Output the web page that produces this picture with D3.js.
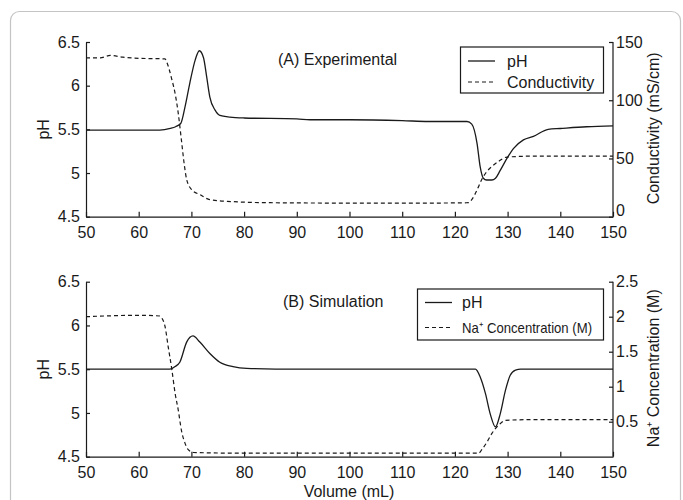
<!DOCTYPE html>
<html>
<head>
<meta charset="utf-8">
<script src="https://cdn.jsdelivr.net/npm/d3@7"></script>
<style>
  body { margin: 0; background: #fff; }
  svg { font-family: "Liberation Sans", Arial, sans-serif; }
  .axis text { font-size: 16px; fill: #1a1a1a; }
  .axis path, .axis line { stroke: #1a1a1a; stroke-width: 1.2; }
</style>
</head>
<body>
<div id="chart"></div>
<script>
// panel A: experimental
const volA = [50, 55, 60, 64, 66, 67, 68, 68.8, 69.7, 70.7, 71.5, 72.3, 72.9, 73.5, 74.5, 75.4, 77.3, 80, 90, 92.5, 100, 110, 115, 122.3, 123.2, 124.2, 124.8, 125.4, 126, 127, 127.7, 128.6, 129.9, 131.1, 133, 134.9, 137.7, 140, 145, 150];
const phA = [5.49, 5.49, 5.49, 5.49, 5.51, 5.53, 5.57, 5.76, 6.03, 6.29, 6.40, 6.32, 6.10, 5.87, 5.72, 5.66, 5.64, 5.63, 5.62, 5.61, 5.61, 5.60, 5.59, 5.59, 5.56, 5.34, 5.07, 4.94, 4.92, 4.92, 4.94, 5.03, 5.17, 5.28, 5.38, 5.42, 5.50, 5.51, 5.53, 5.54];

const volCond = [50, 52.7, 54.6, 57, 60, 65, 65.3, 66.3, 66.9, 67.5, 68.1, 68.7, 69.1, 70.1, 71.6, 73.5, 77.5, 85, 100, 115, 122.5, 123.2, 124.2, 125.1, 126.1, 127, 128.3, 129.9, 135, 150];
const condA = [136.3, 136.3, 138.5, 137, 136, 135.5, 133, 117.6, 106, 89, 66, 43, 32, 23, 19, 14.6, 13, 12, 11.7, 11.7, 12, 14.6, 23, 32, 39, 43, 47.5, 51.2, 52, 52];

// panel B: simulation
const volB = [50, 65.9, 66.9, 67.8, 69.1, 70.3, 71.6, 73.5, 75.4, 77.9, 80.5, 90, 123.9, 124.8, 125.8, 126.7, 127.7, 128.6, 129.6, 130.5, 131.5, 132.5, 150];
const phB = [5.5, 5.5, 5.53, 5.58, 5.81, 5.88, 5.81, 5.68, 5.58, 5.53, 5.51, 5.5, 5.5, 5.41, 5.22, 4.99, 4.84, 4.99, 5.26, 5.43, 5.49, 5.5, 5.5];

const volNa = [50, 60, 64, 64.4, 65, 65.6, 66.3, 66.9, 67.5, 68.1, 68.8, 69.4, 70.4, 80, 124.5, 125.1, 126.1, 127, 128.3, 129.6, 135, 150];
const naB = [2.0, 2.02, 2.01, 1.98, 1.86, 1.57, 1.24, 0.91, 0.67, 0.38, 0.19, 0.1, 0.06, 0.05, 0.05, 0.1, 0.21, 0.33, 0.45, 0.52, 0.53, 0.53];

const xTicks = d3.range(50, 151, 10);
const phTicks = [4.5, 5, 5.5, 6, 6.5];
const condTicks = [0, 50, 100, 150];
const naTicks = [0.5, 1, 1.5, 2, 2.5];

const width = 683, height = 500;
const left = 86, right = 613;
const ink = "#1a1a1a";

const svg = d3.select("#chart").append("svg")
    .attr("width", width)
    .attr("height", height);

// outer frame
svg.append("rect")
    .attr("x", 10.5).attr("y", 11.5)
    .attr("width", 670).attr("height", 520)
    .attr("rx", 9)
    .attr("fill", "none")
    .attr("stroke", "#c4c4c4")
    .attr("stroke-width", 1.2);

const xScale = d3.scaleLinear().domain([50, 150]).range([left, right]);

function toPoints(xs, ys) {
    return xs.map((x, i) => [x, ys[i]]);
}

function drawPanel(cfg) {
    const yLeft = d3.scaleLinear().domain([4.5, 6.5]).range([cfg.bottom, cfg.top]);
    const yRight = d3.scaleLinear().domain(cfg.rightDomain).range([cfg.bottom, cfg.top]);

    const g = svg.append("g");

    const xAxis = d3.axisBottom(xScale).tickValues(xTicks).tickSizeInner(-5).tickSizeOuter(0).tickPadding(10);
    g.append("g").attr("class", "axis")
        .attr("transform", `translate(0,${cfg.bottom})`)
        .call(xAxis);

    const yAxis = d3.axisLeft(yLeft).tickValues(phTicks).tickSizeInner(-4).tickSizeOuter(0).tickPadding(6)
        .tickFormat(d3.format("~g"));
    g.append("g").attr("class", "axis")
        .attr("transform", `translate(${left},0)`)
        .call(yAxis);

    const y2Axis = d3.axisRight(yRight).tickValues(cfg.rightTicks).tickSizeInner(-4).tickSizeOuter(0).tickPadding(3)
        .tickFormat(d3.format("~g"));
    const ra = g.append("g").attr("class", "axis")
        .attr("transform", `translate(${right},0)`)
        .call(y2Axis);
    ra.select(".domain").attr("d", `M0,${cfg.top}V${cfg.bottom}`);
    ra.selectAll(".tick text").filter(d => d === 0).attr("dy", "-0.05em");

    // axis titles
    g.append("text")
        .attr("transform", `translate(49,${(cfg.top + cfg.bottom) / 2}) rotate(-90)`)
        .attr("text-anchor", "middle")
        .attr("font-size", 16).attr("fill", ink)
        .text("pH");

    g.append("text")
        .attr("transform", `translate(659,${(cfg.top + cfg.bottom) / 2 - 1}) rotate(-90)`)
        .attr("text-anchor", "middle")
        .attr("font-size", 16).attr("fill", ink)
        .text(cfg.rightTitle);

    // panel label
    g.append("text")
        .attr("x", cfg.labelX).attr("y", cfg.labelY)
        .attr("font-size", 16).attr("fill", ink)
        .text(cfg.label);

    const phLine = d3.line().curve(d3.curveMonotoneX)
        .x(d => xScale(d[0])).y(d => yLeft(d[1]));
    const secLine = d3.line().curve(d3.curveMonotoneX)
        .x(d => xScale(d[0])).y(d => yRight(d[1]));

    g.append("path")
        .datum(toPoints(cfg.secX, cfg.secY))
        .attr("d", secLine)
        .attr("fill", "none").attr("stroke", ink).attr("stroke-width", 1.2)
        .attr("stroke-dasharray", "4,3");

    g.append("path")
        .datum(toPoints(cfg.phX, cfg.phY))
        .attr("d", phLine)
        .attr("fill", "none").attr("stroke", ink).attr("stroke-width", 1.3);

    // legend
    const lg = cfg.legend;
    g.append("rect")
        .attr("x", lg.x).attr("y", lg.y)
        .attr("width", lg.w).attr("height", lg.h)
        .attr("fill", "#fff").attr("stroke", ink).attr("stroke-width", 1.2);
    g.append("line")
        .attr("x1", lg.lineX).attr("x2", lg.lineX + 27)
        .attr("y1", lg.row1).attr("y2", lg.row1)
        .attr("stroke", ink).attr("stroke-width", 1.3);
    g.append("line")
        .attr("x1", lg.lineX).attr("x2", lg.lineX + 27)
        .attr("y1", lg.row2).attr("y2", lg.row2)
        .attr("stroke", ink).attr("stroke-width", 1.2)
        .attr("stroke-dasharray", "4,3");
    g.append("text")
        .attr("x", lg.textX).attr("y", lg.row1).attr("dy", "0.35em")
        .attr("font-size", 16).attr("fill", ink)
        .text("pH");
    const t2 = g.append("text")
        .attr("x", lg.textX).attr("y", lg.row2).attr("dy", "0.35em")
        .attr("font-size", lg.size2).attr("fill", ink)
        .text(lg.text2);
    if (lg.fit) t2.attr("textLength", lg.fit).attr("lengthAdjust", "spacingAndGlyphs");
}

drawPanel({
    top: 42, bottom: 216.7,
    rightDomain: [0, 150], rightTicks: condTicks,
    rightTitle: "Conductivity (mS/cm)",
    label: "(A) Experimental", labelX: 278, labelY: 65,
    phX: volA, phY: phA, secX: volCond, secY: condA,
    legend: {
        x: 460.5, y: 47, w: 143, h: 46,
        lineX: 468, textX: 507, row1: 61, row2: 82,
        text2: "Conductivity", size2: 16
    }
});

drawPanel({
    top: 281.7, bottom: 456.7,
    rightDomain: [0, 2.5], rightTicks: naTicks,
    rightTitle: "Na\u207A Concentration (M)",
    label: "(B) Simulation", labelX: 283, labelY: 307,
    phX: volB, phY: phB, secX: volNa, secY: naB,
    legend: {
        x: 417.5, y: 289, w: 186, h: 51,
        lineX: 425, textX: 462, row1: 302.5, row2: 327.5,
        text2: "Na\u207A Concentration (M)", size2: 14.5, fit: 130
    }
});

// shared x title
svg.append("text")
    .attr("x", 349).attr("y", 497)
    .attr("text-anchor", "middle")
    .attr("font-size", 16).attr("fill", ink)
    .text("Volume (mL)");
</script>
</body>
</html>
